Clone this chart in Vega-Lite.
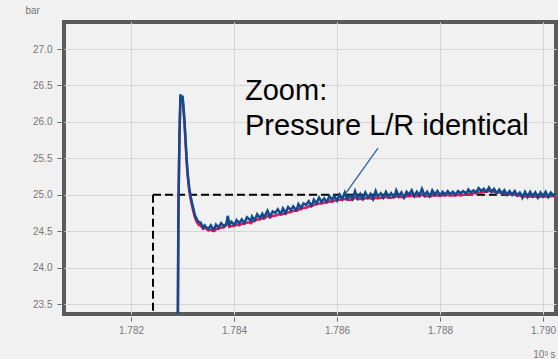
{
  "$schema": "https://vega.github.io/schema/vega-lite/v6.json",
  "width": 492,
  "height": 292,
  "autosize": {"type": "none"},
  "padding": {"left": 64, "top": 22, "right": 2, "bottom": 45},
  "background": "#f1f1f1",
  "config": {
    "view": {"stroke": "#5b5b5b", "strokeWidth": 4, "fill": "#f1f1f1"},
    "font": "Liberation Sans"
  },
  "datasets": {
    "sig": [
      {"t": 1.78291, "L": 23.30, "R": 23.30},
      {"t": 1.78292, "L": 24.75, "R": 24.72},
      {"t": 1.78294, "L": 25.80, "R": 25.75},
      {"t": 1.78296, "L": 26.38, "R": 26.35},
      {"t": 1.78298, "L": 26.28, "R": 26.25},
      {"t": 1.78300, "L": 26.36, "R": 26.33},
      {"t": 1.78302, "L": 26.20, "R": 26.16},
      {"t": 1.78304, "L": 26.00, "R": 25.96},
      {"t": 1.78306, "L": 25.75, "R": 25.70},
      {"t": 1.78308, "L": 25.50, "R": 25.45},
      {"t": 1.78310, "L": 25.30, "R": 25.26},
      {"t": 1.78313, "L": 25.10, "R": 25.06},
      {"t": 1.78316, "L": 24.97, "R": 24.93},
      {"t": 1.78320, "L": 24.84, "R": 24.80},
      {"t": 1.78324, "L": 24.72, "R": 24.69},
      {"t": 1.78328, "L": 24.66, "R": 24.62},
      {"t": 1.78332, "L": 24.62, "R": 24.58},
      {"t": 1.78335, "L": 24.62, "R": 24.58},
      {"t": 1.78340, "L": 24.55, "R": 24.53},
      {"t": 1.78343, "L": 24.58, "R": 24.54},
      {"t": 1.78345, "L": 24.56, "R": 24.54},
      {"t": 1.78350, "L": 24.53, "R": 24.51},
      {"t": 1.78355, "L": 24.58, "R": 24.52},
      {"t": 1.78360, "L": 24.52, "R": 24.50},
      {"t": 1.78363, "L": 24.55, "R": 24.51},
      {"t": 1.78365, "L": 24.59, "R": 24.53},
      {"t": 1.78370, "L": 24.55, "R": 24.53},
      {"t": 1.78375, "L": 24.61, "R": 24.55},
      {"t": 1.78380, "L": 24.57, "R": 24.55},
      {"t": 1.78385, "L": 24.60, "R": 24.58},
      {"t": 1.78388, "L": 24.71, "R": 24.66},
      {"t": 1.78391, "L": 24.59, "R": 24.56},
      {"t": 1.78395, "L": 24.63, "R": 24.57},
      {"t": 1.78400, "L": 24.59, "R": 24.57},
      {"t": 1.78403, "L": 24.61, "R": 24.58},
      {"t": 1.78405, "L": 24.65, "R": 24.59},
      {"t": 1.78410, "L": 24.61, "R": 24.58},
      {"t": 1.78415, "L": 24.66, "R": 24.60},
      {"t": 1.78420, "L": 24.61, "R": 24.60},
      {"t": 1.78425, "L": 24.69, "R": 24.62},
      {"t": 1.78430, "L": 24.66, "R": 24.62},
      {"t": 1.78433, "L": 24.64, "R": 24.61},
      {"t": 1.78435, "L": 24.70, "R": 24.63},
      {"t": 1.78440, "L": 24.65, "R": 24.64},
      {"t": 1.78445, "L": 24.73, "R": 24.66},
      {"t": 1.78450, "L": 24.68, "R": 24.66},
      {"t": 1.78455, "L": 24.74, "R": 24.68},
      {"t": 1.78458, "L": 24.69, "R": 24.67},
      {"t": 1.78460, "L": 24.71, "R": 24.68},
      {"t": 1.78465, "L": 24.78, "R": 24.71},
      {"t": 1.78470, "L": 24.70, "R": 24.69},
      {"t": 1.78475, "L": 24.77, "R": 24.71},
      {"t": 1.78480, "L": 24.75, "R": 24.71},
      {"t": 1.78485, "L": 24.80, "R": 24.73},
      {"t": 1.78490, "L": 24.74, "R": 24.73},
      {"t": 1.78493, "L": 24.77, "R": 24.73},
      {"t": 1.78495, "L": 24.81, "R": 24.74},
      {"t": 1.78500, "L": 24.75, "R": 24.74},
      {"t": 1.78505, "L": 24.83, "R": 24.76},
      {"t": 1.78510, "L": 24.79, "R": 24.76},
      {"t": 1.78515, "L": 24.84, "R": 24.78},
      {"t": 1.78520, "L": 24.79, "R": 24.78},
      {"t": 1.78523, "L": 24.82, "R": 24.78},
      {"t": 1.78525, "L": 24.87, "R": 24.80},
      {"t": 1.78530, "L": 24.82, "R": 24.80},
      {"t": 1.78535, "L": 24.88, "R": 24.82},
      {"t": 1.78540, "L": 24.86, "R": 24.82},
      {"t": 1.78545, "L": 24.91, "R": 24.84},
      {"t": 1.78550, "L": 24.85, "R": 24.84},
      {"t": 1.78553, "L": 24.89, "R": 24.85},
      {"t": 1.78555, "L": 24.93, "R": 24.86},
      {"t": 1.78560, "L": 24.88, "R": 24.87},
      {"t": 1.78565, "L": 24.96, "R": 24.88},
      {"t": 1.78570, "L": 24.90, "R": 24.88},
      {"t": 1.78575, "L": 24.95, "R": 24.89},
      {"t": 1.78580, "L": 24.90, "R": 24.90},
      {"t": 1.78583, "L": 24.94, "R": 24.90},
      {"t": 1.78585, "L": 24.98, "R": 24.91},
      {"t": 1.78590, "L": 24.93, "R": 24.90},
      {"t": 1.78595, "L": 24.98, "R": 24.92},
      {"t": 1.78600, "L": 24.92, "R": 24.92},
      {"t": 1.78605, "L": 25.00, "R": 24.93},
      {"t": 1.78610, "L": 24.94, "R": 24.93},
      {"t": 1.78615, "L": 25.03, "R": 24.94},
      {"t": 1.78618, "L": 24.97, "R": 24.94},
      {"t": 1.78620, "L": 24.94, "R": 24.93},
      {"t": 1.78625, "L": 24.99, "R": 24.93},
      {"t": 1.78630, "L": 24.94, "R": 24.93},
      {"t": 1.78635, "L": 25.05, "R": 24.96},
      {"t": 1.78640, "L": 24.95, "R": 24.94},
      {"t": 1.78645, "L": 25.01, "R": 24.94},
      {"t": 1.78648, "L": 24.96, "R": 24.94},
      {"t": 1.78650, "L": 24.94, "R": 24.94},
      {"t": 1.78655, "L": 25.03, "R": 24.95},
      {"t": 1.78660, "L": 24.96, "R": 24.95},
      {"t": 1.78665, "L": 25.01, "R": 24.95},
      {"t": 1.78670, "L": 24.94, "R": 24.94},
      {"t": 1.78675, "L": 25.05, "R": 24.96},
      {"t": 1.78678, "L": 24.99, "R": 24.95},
      {"t": 1.78680, "L": 24.98, "R": 24.95},
      {"t": 1.78685, "L": 25.02, "R": 24.96},
      {"t": 1.78690, "L": 24.96, "R": 24.96},
      {"t": 1.78695, "L": 25.04, "R": 24.97},
      {"t": 1.78700, "L": 24.97, "R": 24.96},
      {"t": 1.78705, "L": 25.02, "R": 24.96},
      {"t": 1.78710, "L": 24.97, "R": 24.97},
      {"t": 1.78713, "L": 25.01, "R": 24.97},
      {"t": 1.78715, "L": 25.06, "R": 24.98},
      {"t": 1.78720, "L": 24.98, "R": 24.97},
      {"t": 1.78725, "L": 25.03, "R": 24.97},
      {"t": 1.78730, "L": 24.96, "R": 24.96},
      {"t": 1.78735, "L": 25.04, "R": 24.98},
      {"t": 1.78740, "L": 25.00, "R": 24.98},
      {"t": 1.78745, "L": 25.06, "R": 24.99},
      {"t": 1.78748, "L": 25.01, "R": 24.98},
      {"t": 1.78750, "L": 24.98, "R": 24.98},
      {"t": 1.78755, "L": 25.04, "R": 24.98},
      {"t": 1.78760, "L": 24.99, "R": 24.98},
      {"t": 1.78765, "L": 25.08, "R": 25.00},
      {"t": 1.78770, "L": 24.99, "R": 24.98},
      {"t": 1.78775, "L": 25.04, "R": 24.98},
      {"t": 1.78780, "L": 24.98, "R": 24.98},
      {"t": 1.78783, "L": 25.02, "R": 24.98},
      {"t": 1.78785, "L": 25.06, "R": 24.99},
      {"t": 1.78790, "L": 25.00, "R": 24.99},
      {"t": 1.78795, "L": 25.05, "R": 24.99},
      {"t": 1.78800, "L": 24.99, "R": 24.99},
      {"t": 1.78805, "L": 25.04, "R": 24.99},
      {"t": 1.78810, "L": 25.00, "R": 24.99},
      {"t": 1.78815, "L": 25.05, "R": 25.00},
      {"t": 1.78818, "L": 25.02, "R": 24.99},
      {"t": 1.78820, "L": 25.01, "R": 24.99},
      {"t": 1.78825, "L": 25.04, "R": 24.99},
      {"t": 1.78830, "L": 25.00, "R": 24.99},
      {"t": 1.78835, "L": 25.05, "R": 25.00},
      {"t": 1.78840, "L": 25.02, "R": 24.99},
      {"t": 1.78845, "L": 25.05, "R": 25.00},
      {"t": 1.78850, "L": 25.02, "R": 25.00},
      {"t": 1.78853, "L": 25.04, "R": 25.00},
      {"t": 1.78855, "L": 25.07, "R": 25.01},
      {"t": 1.78860, "L": 25.03, "R": 25.00},
      {"t": 1.78865, "L": 25.06, "R": 25.02},
      {"t": 1.78870, "L": 25.03, "R": 25.02},
      {"t": 1.78875, "L": 25.09, "R": 25.03},
      {"t": 1.78880, "L": 25.05, "R": 25.03},
      {"t": 1.78885, "L": 25.08, "R": 25.04},
      {"t": 1.78888, "L": 25.05, "R": 25.04},
      {"t": 1.78890, "L": 25.04, "R": 25.04},
      {"t": 1.78895, "L": 25.10, "R": 25.05},
      {"t": 1.78900, "L": 25.04, "R": 25.05},
      {"t": 1.78905, "L": 25.08, "R": 25.04},
      {"t": 1.78910, "L": 25.02, "R": 25.03},
      {"t": 1.78915, "L": 25.07, "R": 25.03},
      {"t": 1.78920, "L": 25.02, "R": 25.02},
      {"t": 1.78923, "L": 25.04, "R": 25.02},
      {"t": 1.78925, "L": 25.06, "R": 25.02},
      {"t": 1.78930, "L": 25.00, "R": 25.00},
      {"t": 1.78935, "L": 25.05, "R": 25.01},
      {"t": 1.78940, "L": 25.00, "R": 25.00},
      {"t": 1.78945, "L": 25.05, "R": 25.00},
      {"t": 1.78950, "L": 24.99, "R": 24.99},
      {"t": 1.78955, "L": 25.03, "R": 24.99},
      {"t": 1.78958, "L": 25.00, "R": 24.98},
      {"t": 1.78960, "L": 24.96, "R": 24.97},
      {"t": 1.78965, "L": 25.04, "R": 24.98},
      {"t": 1.78970, "L": 24.97, "R": 24.97},
      {"t": 1.78975, "L": 25.04, "R": 24.98},
      {"t": 1.78980, "L": 24.98, "R": 24.97},
      {"t": 1.78985, "L": 25.03, "R": 24.98},
      {"t": 1.78990, "L": 24.96, "R": 24.96},
      {"t": 1.78993, "L": 25.00, "R": 24.97},
      {"t": 1.78995, "L": 25.03, "R": 24.98},
      {"t": 1.79000, "L": 24.98, "R": 24.97},
      {"t": 1.79005, "L": 25.04, "R": 24.98},
      {"t": 1.79010, "L": 24.97, "R": 24.97},
      {"t": 1.79015, "L": 25.03, "R": 24.98},
      {"t": 1.79020, "L": 24.99, "R": 24.98},
      {"t": 1.79025, "L": 25.00, "R": 24.98}
    ]
  },
  "layer": [
    {
      "data": {"values": [{}]},
      "mark": {"type": "rule", "stroke": "#000000", "strokeWidth": 2, "strokeDash": [8, 4], "clip": true},
      "encoding": {
        "x": {"datum": 1.782427, "type": "quantitative"},
        "y": {"datum": 25.0, "type": "quantitative"},
        "y2": {"datum": 23.2}
      }
    },
    {
      "data": {"values": [{}]},
      "mark": {"type": "rule", "stroke": "#000000", "strokeWidth": 2, "strokeDash": [8, 4], "clip": true},
      "encoding": {
        "x": {"datum": 1.782427, "type": "quantitative"},
        "x2": {"datum": 1.7903},
        "y": {"datum": 25.0, "type": "quantitative"}
      }
    },
    {
      "data": {"name": "sig"},
      "mark": {"type": "line", "stroke": "#e3165b", "strokeWidth": 2.5, "clip": true},
      "encoding": {
        "x": {
          "field": "t", "type": "quantitative",
          "scale": {"domain": [1.780699, 1.790252], "nice": false, "zero": false},
          "axis": {
            "values": [1.782, 1.784, 1.786, 1.788, 1.79],
            "format": ".3f",
            "grid": true, "gridColor": "#d6d6d6", "gridWidth": 1,
            "domain": false,
            "ticks": true, "tickColor": "#666666", "tickSize": 4, "offset": 3,
            "labelColor": "#777777", "labelFontSize": 10, "labelPadding": 4, "labelFont": "Liberation Sans",
            "title": "10³ s", "titleColor": "#777777", "titleFontSize": 10, "titleFontWeight": "normal",
            "titleFont": "Liberation Sans", "titleAlign": "right", "titleAnchor": null,
            "titleBaseline": "alphabetic", "titleX": 491, "titleY": 40
          }
        },
        "y": {
          "field": "R", "type": "quantitative",
          "scale": {"domain": [23.3628, 27.3706], "nice": false, "zero": false},
          "axis": {
            "values": [23.5, 24.0, 24.5, 25.0, 25.5, 26.0, 26.5, 27.0],
            "format": ".1f",
            "grid": true, "gridColor": "#d6d6d6", "gridWidth": 1,
            "domain": false,
            "ticks": true, "tickColor": "#666666", "tickSize": 4, "offset": 3,
            "labelColor": "#777777", "labelFontSize": 10, "labelPadding": 5, "labelFont": "Liberation Sans",
            "title": "bar", "titleColor": "#777777", "titleFontSize": 10, "titleFontWeight": "normal",
            "titleFont": "Liberation Sans", "titleAngle": 0, "titleAlign": "left", "titleAnchor": null,
            "titleBaseline": "alphabetic", "titleX": -36, "titleY": -9
          }
        }
      }
    },
    {
      "data": {"name": "sig"},
      "mark": {"type": "line", "stroke": "#0f4c8e", "strokeWidth": 2.5, "clip": true},
      "encoding": {
        "x": {"field": "t", "type": "quantitative"},
        "y": {"field": "L", "type": "quantitative"}
      }
    },
    {
      "data": {"values": [{}]},
      "mark": {"type": "rule", "stroke": "#2f62a0", "strokeWidth": 1.3},
      "encoding": {
        "x": {"datum": 1.786796, "type": "quantitative"},
        "y": {"datum": 25.641, "type": "quantitative"},
        "x2": {"datum": 1.786175},
        "y2": {"datum": 25.024}
      }
    },
    {
      "data": {"values": [{}]},
      "mark": {"type": "text", "font": "Liberation Sans", "fontSize": 29, "color": "#000000", "align": "left", "baseline": "alphabetic", "lineBreak": "\n", "lineHeight": 35},
      "encoding": {
        "x": {"datum": 1.784214, "type": "quantitative"},
        "y": {"datum": 26.30, "type": "quantitative"},
        "text": {"value": "Zoom:\nPressure L/R identical"}
      }
    }
  ]
}
